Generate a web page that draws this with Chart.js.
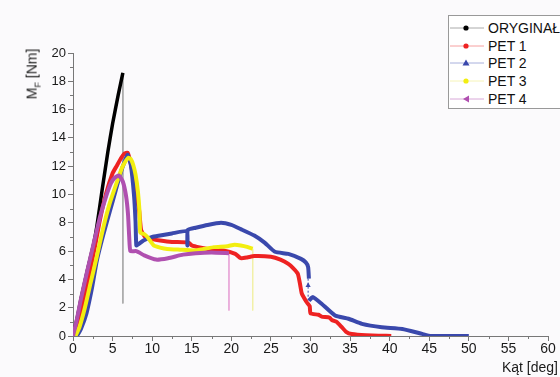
<!DOCTYPE html>
<html>
<head>
<meta charset="utf-8">
<script src="https://cdn.jsdelivr.net/npm/chart.js"></script>
<style>
  html, body { margin: 0; padding: 0; }
  body { width: 560px; height: 377px; overflow: hidden; background: #fbfafc; font-family: Arial, "Liberation Sans", sans-serif; }
  #wrap { position: relative; width: 560px; height: 377px; }
  #wykres { position: absolute; left: 0; top: 0; }
  .ytitle { position: absolute; left: 33px; top: 74px; transform: translate(-50%, -50%) rotate(-90deg); font-size: 14px; color: #1a1a1a; white-space: nowrap; }
  .ytitle sub { font-size: 9px; }
  .xtitle { position: absolute; right: 2px; top: 359px; font-size: 14px; color: #1a1a1a; white-space: nowrap; }
  .legenda { position: absolute; left: 448px; top: 15px; width: 130px; height: 92px; border: 1px solid #999; background: #fff; }
  .legenda div { height: 17.8px; display: flex; align-items: center; font-size: 14px; color: #111; white-space: nowrap; }
  .legenda div:first-child { margin-top: 3px; }
  .legenda svg { margin-left: 1px; margin-right: 4px; }
</style>
</head>
<body>
<div id="wrap">
  <canvas id="wykres" width="560" height="377"></canvas>
  <div class="ytitle">M<sub>F</sub> [Nm]</div>
  <div class="xtitle">Kąt [deg]</div>
  <div class="legenda" id="legenda"></div>
</div>
<script>
// kąt [deg] / moment [Nm]
const oryginalX = [0, 0.5, 1.0, 1.8, 2.6, 3.0, 3.7, 4.4, 5.0, 5.7, 6.3];
const oryginalY = [0, 1.2, 2.6, 4.6, 6.5, 7.7, 10.4, 13.0, 15.0, 17.0, 18.6];

const pet1X = [0.1, 0.6, 1.2, 2.0, 2.8, 3.4, 4.2, 5.0, 5.5, 6.1, 6.5, 6.9, 7.4, 7.9, 8.35, 8.6, 9.1, 10.0, 11.0, 12.5, 14.6, 15.0, 16.0, 17.5, 19.0, 20.5, 21.2, 22.0, 22.9, 25.0, 26.2, 27.2, 27.8, 28.4, 28.7, 28.9, 29.5, 29.9, 30.0, 31.0, 31.4, 32.4, 32.7, 33.3, 33.9, 34.5, 35.2, 37.0, 40.2];
const pet1Y = [0, 0.9, 2.2, 4.2, 6.4, 8.2, 10.1, 11.5, 12.0, 12.6, 12.9, 12.95, 11.9, 10.1, 8.9, 7.5, 7.0, 6.85, 6.75, 6.65, 6.6, 6.4, 6.25, 6.1, 6.05, 5.8, 5.5, 5.55, 5.65, 5.6, 5.4, 5.1, 4.8, 4.4, 3.6, 3.0, 2.4, 2.1, 1.6, 1.5, 1.37, 1.3, 1.13, 1.0, 0.66, 0.3, 0.14, 0.05, 0];

const pet2X = [0.5, 1.0, 1.7, 2.4, 3.0, 3.8, 4.7, 5.4, 6.0, 6.5, 6.9, 7.3, 7.7, 7.9, 8.0, 8.3, 8.9, 10.0, 11.0, 12.5, 14.4, 14.45, 14.5, 15.5, 17.0, 18.7, 20.0, 21.2, 22.9, 24.2, 25.5, 27.2, 28.8, 29.4, 29.7, 29.8, null, 29.8, 30.3, 31.4, 33.1, 34.8, 36.5, 39.0, 41.6, 44.1, 45.2, 50.0];
const pet2Y = [0, 0.5, 1.6, 3.4, 5.3, 7.1, 8.9, 10.3, 11.5, 12.3, 12.8, 12.1, 10.0, 8.1, 6.4, 6.5, 6.75, 7.0, 7.1, 7.25, 7.4, 6.4, 7.5, 7.65, 7.85, 8.0, 7.85, 7.55, 7.1, 6.6, 5.95, 5.8, 5.45, 5.2, 4.87, 4.05, null, 2.5, 2.75, 2.28, 1.45, 1.22, 0.86, 0.62, 0.5, 0.15, 0, 0];

const pet3X = [0.3, 0.8, 1.5, 2.2, 3.0, 3.8, 4.6, 5.5, 6.2, 6.7, 7.0, 7.3, 7.6, 7.9, 8.2, 8.4, 8.5, 9.0, 9.4, 10.2, 11.0, 11.9, 13.5, 15.3, 16.5, 17.8, 19.5, 20.4, 21.2, 22.0, 22.7];
const pet3Y = [0, 0.6, 2.0, 3.7, 5.6, 7.6, 9.3, 10.8, 11.9, 12.4, 12.6, 12.5, 12.1, 11.4, 10.2, 8.8, 7.3, 7.2, 7.0, 6.4, 6.25, 6.15, 6.1, 6.05, 6.15, 6.28, 6.35, 6.45, 6.4, 6.3, 6.17];

const pet4X = [0, 0.5, 1.0, 1.8, 2.6, 3.4, 4.2, 4.8, 5.3, 5.8, 6.3, 6.7, 6.95, 7.1, 7.25, 8.0, 9.0, 10.5, 12.0, 13.9, 15.5, 17.5, 19.7];
const pet4Y = [0, 1.2, 2.6, 4.6, 6.5, 8.4, 9.9, 10.8, 11.2, 11.35, 10.9, 9.9, 8.6, 7.0, 6.0, 6.0, 5.7, 5.4, 5.5, 5.75, 5.85, 5.9, 5.85];

// cienkie linie spadku na końcu pomiaru
const spadekX = [6.3, 19.7, 22.7, 29.7];
const spadekOd = [18.6, 5.85, 6.17, 4.05];
const spadekDo = [2.3, 1.8, 1.8, 2.5];

const xTicks = { min: 0, max: 60, step: 5 };
const yTicks = { min: 0, max: 20, step: 2 };

const serie = [
  { nazwa: 'ORYGINAŁ', x: oryginalX, y: oryginalY, kolor: '#000000', linia: '#aaaaaa', znak: 'circle' },
  { nazwa: 'PET 1', x: pet1X, y: pet1Y, kolor: '#ee2222', linia: '#f6a0a0', znak: 'circle' },
  { nazwa: 'PET 2', x: pet2X, y: pet2Y, kolor: '#3a48ac', linia: '#a8b0dc', znak: 'triangle' },
  { nazwa: 'PET 3', x: pet3X, y: pet3Y, kolor: '#f2ee10', linia: '#f6f4b8', znak: 'circle' },
  { nazwa: 'PET 4', x: pet4X, y: pet4Y, kolor: '#b050b0', linia: '#d8a8d8', znak: 'triangleLeft' },
];

function punkty(xs, ys) {
  return xs.map((x, i) => ({ x: x, y: ys[i] }));
}

const dataset = [];
serie.forEach((s, i) => {
  dataset.push({
    label: s.nazwa,
    data: punkty(s.x, s.y),
    borderColor: s.kolor,
    borderWidth: i === 0 ? 3.5 : 4,
    pointRadius: 0,
    tension: 0.15,
    spanGaps: false,
    order: serie.length - i,
  });
});

const kolorySpadku = ['#a8a8a8', '#e8a8d8', '#f2f0a8', '#3a48ac'];
spadekX.forEach((x, i) => {
  const od = spadekOd[i], doo = spadekDo[i];
  dataset.push({
    label: 'spadek' + i,
    data: [{ x: x, y: od }, { x: x, y: (od + doo) / 2 + 0.3 }, { x: x, y: doo }],
    borderColor: kolorySpadku[i],
    backgroundColor: kolorySpadku[i],
    borderWidth: 1,
    borderDash: i === 3 ? [2, 2] : [],
    pointRadius: i === 3 ? [0, 3, 0] : 0,
    pointStyle: 'triangle',
    pointBorderWidth: 0,
    order: 10,
  });
});

// male podzialki pomiedzy glownymi
const minorTicks = {
  id: 'minorTicks',
  afterDraw(chart) {
    const c = chart.ctx;
    const xs = chart.scales.x, ys = chart.scales.y;
    c.save();
    c.strokeStyle = '#777';
    c.lineWidth = 1;
    c.beginPath();
    for (let v = xTicks.step / 2; v < xTicks.max; v += xTicks.step) {
      const px = Math.round(xs.getPixelForValue(v)) + 0.5;
      c.moveTo(px, ys.bottom);
      c.lineTo(px, ys.bottom + 3);
    }
    for (let v = yTicks.step / 2; v < yTicks.max; v += yTicks.step) {
      const py = Math.round(ys.getPixelForValue(v)) + 0.5;
      c.moveTo(xs.left, py);
      c.lineTo(xs.left - 3, py);
    }
    c.stroke();
    c.restore();
  }
};

new Chart(document.getElementById('wykres'), {
  type: 'line',
  data: { datasets: dataset },
  options: {
    responsive: false,
    animation: false,
    devicePixelRatio: 1,
    layout: { padding: { top: 53, right: 12, left: 0, bottom: 0 } },
    plugins: { legend: { display: false }, tooltip: { enabled: false } },
    scales: {
      x: {
        type: 'linear',
        min: xTicks.min, max: xTicks.max,
        afterFit: (s) => { s.height = 41; },
        ticks: { stepSize: xTicks.step, color: '#1a1a1a', font: { family: 'Arial', size: 14 }, padding: 0, maxRotation: 0 },
        grid: { drawOnChartArea: false, tickLength: 5, tickColor: '#777' },
        border: { color: '#777', width: 1 },
      },
      y: {
        min: yTicks.min, max: yTicks.max,
        afterFit: (s) => { s.width = 73; },
        ticks: { stepSize: yTicks.step, color: '#1a1a1a', font: { family: 'Arial', size: 13 }, padding: 2 },
        grid: { drawOnChartArea: false, tickLength: 5, tickColor: '#777' },
        border: { color: '#777', width: 1 },
      },
    },
  },
  plugins: [minorTicks],
});

// legenda jak w Origin
function znakSvg(znak, kolor) {
  if (znak === 'triangle') return `<polygon points="16,4.5 19.5,10.5 12.5,10.5" fill="${kolor}"/>`;
  if (znak === 'triangleLeft') return `<polygon points="13,8 19,4.5 19,11.5" fill="${kolor}"/>`;
  return `<circle cx="16" cy="8" r="2.6" fill="${kolor}"/>`;
}
const legenda = document.getElementById('legenda');
serie.forEach(s => {
  legenda.innerHTML += `
    <div>
      <svg width="34" height="16"><line x1="0" y1="8" x2="34" y2="8" stroke="${s.linia}" stroke-width="1"/>${znakSvg(s.znak, s.kolor)}</svg>
      <span>${s.nazwa}</span>
    </div>`;
});
</script>
</body>
</html>
